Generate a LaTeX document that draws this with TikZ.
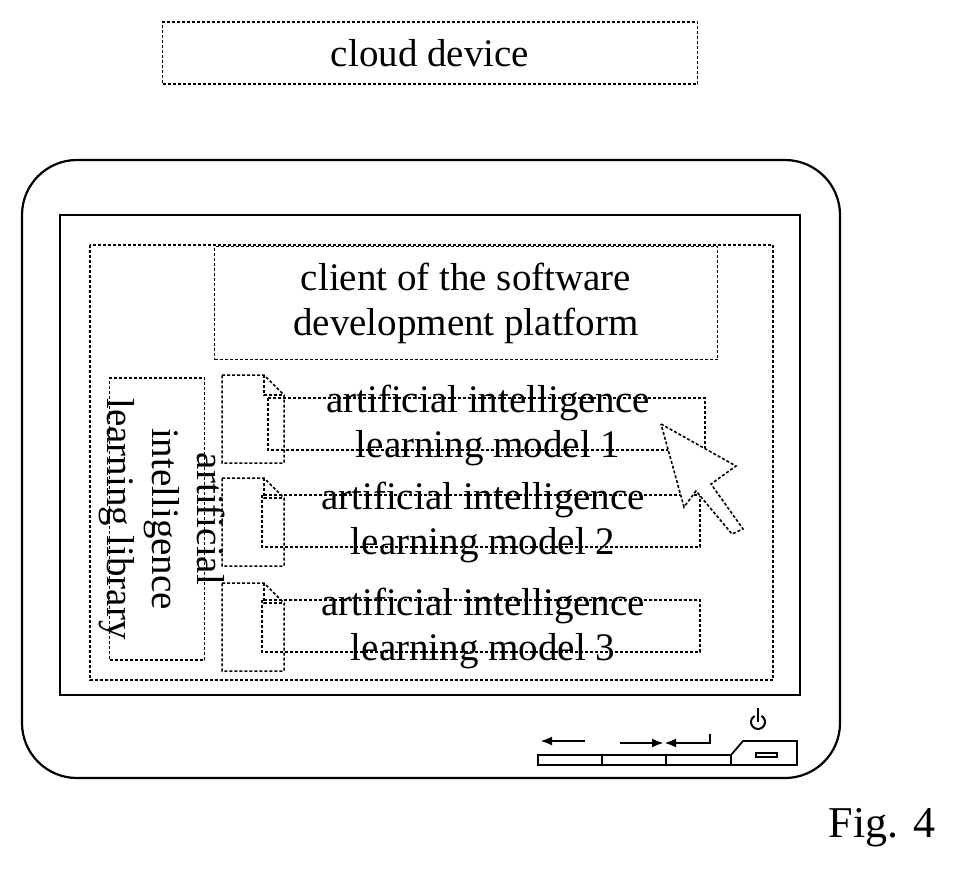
\documentclass[tikz,border=0pt]{standalone}
\usepackage{fontspec}
\usetikzlibrary{arrows.meta}
\setmainfont{Liberation Serif}
\begin{document}
\begin{tikzpicture}[x=1pt,y=-1pt,
  dbox/.style={draw,densely dashed,line width=1.3pt},
  solid2/.style={draw,line width=2.2pt},
  lbl/.style={font=\fontsize{39}{45}\selectfont,align=center,inner sep=0pt},
  file/.style={draw,densely dashed,line width=1.5pt},
  btnarrow/.style={line width=2.5pt,-{Latex[length=12pt,width=9pt]}}]
\useasboundingbox (0,0) rectangle (957,875);
\node[dbox,minimum width=535,minimum height=62,lbl] (cloud) at (430,53) {cloud device};
\draw[solid2,rounded corners=55] (22,160) rectangle (840,778);
\draw[solid2] (60,215) rectangle (800,695);
\draw[dbox] (90,245) rectangle (773,680);
\node[dbox,minimum width=503,minimum height=113,lbl] (client) at (466,303) {client of the software\\development platform};
\node[dbox,minimum width=95,minimum height=282] (lib) at (157,519) {};
\node[lbl,rotate=-90] (libt) at (162,519) {artificial\\intelligence\\learning library};
% file icons
\foreach \y/\n in {375/1,478/2,583/3}{
  \draw[file] (222,\y) -- (264,\y) -- (284,\y+20) -- (284,\y+88) -- (222,\y+88) -- cycle;
  \draw[file] (264,\y) -- (264,\y+20) -- (284,\y+20);
}
\draw[dbox] (268,398) rectangle (705,450);
\draw[dbox] (262,495) rectangle (700,547);
\draw[dbox] (262,600) rectangle (700,652);
\node[lbl] (m1) at (488,425) {artificial intelligence\\learning model 1};
\node[lbl] (m2) at (483,522) {artificial intelligence\\learning model 2};
\node[lbl] (m3) at (483,628) {artificial intelligence\\learning model 3};
% cursor
\draw[densely dashed,line width=1.6pt,fill=white] (661,424) -- (736,466) -- (711,484) -- (743,529) -- (732,534) -- (696,491) -- (684,507) -- cycle;
% buttons
\draw[line width=1.8pt] (538,755) rectangle (602,765);
\draw[line width=1.8pt] (602,755) rectangle (666,765);
\draw[line width=1.8pt] (666,755) rectangle (731,765);
\draw[line width=1.8pt] (731,765) -- (731,755) -- (743,741) -- (797,741) -- (797,765) -- cycle;
\draw[line width=1.8pt] (756,753) rectangle (777,757);
\draw[btnarrow] (585,741) -- (540,741);
\draw[btnarrow] (620,743) -- (664,743);
\draw[btnarrow] (710,734) -- (710,743) -- (664,743);
\draw[line width=2pt] (761.5,715.9) arc (-60:240:7);
\draw[line width=2pt] (758,708) -- (758,722);
\node[font=\fontsize{44}{48}\selectfont,inner sep=0pt] (fig) at (882,828) {Fig. 4};
\end{tikzpicture}
\end{document}
